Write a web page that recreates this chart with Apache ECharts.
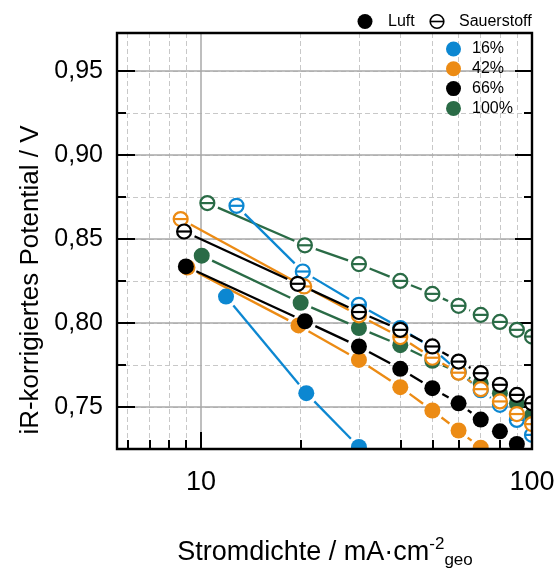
<!DOCTYPE html>
<html>
<head>
<meta charset="utf-8">
<script src="https://cdn.jsdelivr.net/npm/echarts@6/dist/echarts.min.js"></script>
<style>
  html, body { margin: 0; padding: 0; background: #fff; }
  #chart { width: 558px; height: 572px; }
</style>
</head>
<body>
<div id="chart"></div>
<script>
// Stromdichte in mA/cm² (geo) und iR-korrigiertes Potential in V

// Luft (gefüllte Symbole)
const luft16I = [11.9, 20.8, 30];
const luft16U = [0.8157, 0.7582, 0.7262];
const luft42I = [9.1, 19.7, 30, 40, 50, 60, 70];
const luft42U = [0.8330, 0.7985, 0.7780, 0.7618, 0.7479, 0.7360, 0.7258];
const luft66I = [9.0, 20.6, 30, 40, 50, 60, 70, 80, 90];
const luft66U = [0.8336, 0.8010, 0.7860, 0.7727, 0.7612, 0.7522, 0.7425, 0.7355, 0.7280];
const luft100I = [10.05, 20.0, 30, 40, 50, 60, 70, 80, 90, 100];
const luft100U = [0.8400, 0.8120, 0.7970, 0.7868, 0.7775, 0.7705, 0.7640, 0.7582, 0.7522, 0.7450];

// Sauerstoff (offene Symbole)
const o2_16I = [12.8, 20.3, 30, 40, 50, 60, 70, 80, 90, 100];
const o2_16U = [0.8697, 0.8306, 0.8108, 0.7970, 0.7850, 0.7710, 0.7600, 0.7513, 0.7423, 0.7334];
const o2_42I = [8.68, 20.5, 30, 40, 50, 60, 70, 80, 90, 100];
const o2_42U = [0.8618, 0.8217, 0.8045, 0.7916, 0.7793, 0.7704, 0.7606, 0.7533, 0.7458, 0.7398];
const o2_66I = [8.89, 19.6, 30, 40, 50, 60, 70, 80, 90, 100];
const o2_66U = [0.8544, 0.8233, 0.8065, 0.7959, 0.7860, 0.7770, 0.7701, 0.7632, 0.7572, 0.7522];
const o2_100I = [10.45, 20.6, 30, 40, 50, 60, 70, 80, 90, 100];
const o2_100U = [0.8713, 0.8462, 0.8350, 0.8250, 0.8173, 0.8102, 0.8048, 0.8006, 0.7959, 0.7919];

// Achsen
const xMajorTicks = [10, 100];
const xMinorTicks = [6, 7, 8, 9, 20, 30, 40, 50, 60, 70, 80, 90];
const yMajorTicks = [0.75, 0.80, 0.85, 0.90, 0.95];
const legendLabels = ['16%', '42%', '66%', '100%'];

const X_MIN = 5.574, X_MAX = 100;
const Y_MIN = 0.725, Y_MAX = 0.9725;

const FONT = '"Liberation Sans", Arial, Helvetica, sans-serif';
const BLUE = '#0c87d1', ORANGE = '#ec8b14', BLACK = '#000000', GREEN = '#2a6b46';
const colors = [BLUE, ORANGE, BLACK, GREEN];

const luftSets = [
  { I: luft16I, U: luft16U, color: BLUE },
  { I: luft42I, U: luft42U, color: ORANGE },
  { I: luft100I, U: luft100U, color: GREEN },
  { I: luft66I, U: luft66U, color: BLACK }
];
const o2Sets = [
  { I: o2_100I, U: o2_100U, color: GREEN },
  { I: o2_16I, U: o2_16U, color: BLUE },
  { I: o2_42I, U: o2_42U, color: ORANGE },
  { I: o2_66I, U: o2_66U, color: BLACK }
];

const GAP = 11.5;    // Abstand der Verbindungslinie vom Symbolmittelpunkt
const R_FILLED = 8;
const R_OPEN = 7;
const LINE_W = 2.3;

function clipRect(params) {
  const cs = params.coordSys;
  return { type: 'rect', shape: { x: cs.x, y: cs.y, width: cs.width, height: cs.height } };
}

function segmentRenderer(color) {
  return function (params, api) {
    const a = api.coord([api.value(0), api.value(1)]);
    const b = api.coord([api.value(2), api.value(3)]);
    const dx = b[0] - a[0], dy = b[1] - a[1];
    const len = Math.hypot(dx, dy);
    if (len <= 2 * GAP + 0.5) return null;
    const ux = dx / len, uy = dy / len;
    return {
      type: 'line',
      clipPath: clipRect(params),
      shape: { x1: a[0] + ux * GAP, y1: a[1] + uy * GAP, x2: b[0] - ux * GAP, y2: b[1] - uy * GAP },
      style: { stroke: color, lineWidth: LINE_W }
    };
  };
}

function markerRenderer(color, open) {
  return function (params, api) {
    const p = api.coord([api.value(0), api.value(1)]);
    if (!open) {
      return {
        type: 'circle', clipPath: clipRect(params),
        shape: { cx: p[0], cy: p[1], r: R_FILLED },
        style: { fill: color }
      };
    }
    return {
      type: 'group', clipPath: clipRect(params),
      children: [
        { type: 'circle', shape: { cx: p[0], cy: p[1], r: R_OPEN }, style: { fill: '#fff', stroke: color, lineWidth: 2.2 } },
        { type: 'line', shape: { x1: p[0] - R_OPEN, y1: p[1], x2: p[0] + R_OPEN, y2: p[1] }, style: { stroke: color, lineWidth: 2.2 } }
      ]
    };
  };
}

function segments(set) {
  const out = [];
  for (let i = 0; i + 1 < set.I.length; i++) out.push([set.I[i], set.U[i], set.I[i + 1], set.U[i + 1]]);
  return out;
}
function points(set) {
  return set.I.map((x, i) => [x, set.U[i]]);
}

const series = [];
[...luftSets, ...o2Sets].forEach(set => {
  series.push({
    type: 'custom', xAxisIndex: 0, yAxisIndex: 0, silent: true, z: 2,
    renderItem: segmentRenderer(set.color),
    encode: { x: [0, 2], y: [1, 3] },
    data: segments(set)
  });
});
luftSets.forEach(set => {
  series.push({
    type: 'custom', xAxisIndex: 0, yAxisIndex: 0, silent: true, z: 3,
    renderItem: markerRenderer(set.color, false),
    data: points(set)
  });
});
o2Sets.forEach(set => {
  series.push({
    type: 'custom', xAxisIndex: 0, yAxisIndex: 0, silent: true, z: 4,
    renderItem: markerRenderer(set.color, true),
    data: points(set)
  });
});

const tickStyle = { color: '#000', width: 2 };
const fmtY = v => v.toFixed(2).replace('.', ',');

const graphic = [
  // Rahmen
  { type: 'rect', z: 100, silent: true,
    shape: { x: 117, y: 33, width: 415, height: 416 },
    style: { fill: 'none', stroke: '#000', lineWidth: 2.4 } },
  // Legende Luft / Sauerstoff
  { type: 'circle', z: 100, shape: { cx: 365, cy: 21.5, r: 7.5 }, style: { fill: '#000' } },
  { type: 'text', z: 100, x: 388, y: 21.5,
    style: { text: 'Luft', font: '16px ' + FONT, fill: '#000', verticalAlign: 'middle' } },
  { type: 'circle', z: 100, shape: { cx: 437, cy: 21.5, r: 6.8 }, style: { fill: '#fff', stroke: '#000', lineWidth: 1.6 } },
  { type: 'line', z: 100, shape: { x1: 430.2, y1: 21.5, x2: 443.8, y2: 21.5 }, style: { stroke: '#000', lineWidth: 1.6 } },
  { type: 'text', z: 100, x: 459, y: 21.5,
    style: { text: 'Sauerstoff', font: '16px ' + FONT, fill: '#000', verticalAlign: 'middle' } },
  // Achsentitel
  { type: 'text', z: 100, x: 31, y: 280, rotation: Math.PI / 2,
    style: { text: 'iR-korrigiertes Potential / V', font: '26px ' + FONT, fill: '#000',
             align: 'center', verticalAlign: 'middle' } },
  { type: 'text', z: 100, x: 325, y: 553,
    style: {
      text: 'Stromdichte / mA·cm{sup|-2}{sub|geo}',
      font: '27px ' + FONT, fill: '#000', align: 'center', verticalAlign: 'middle',
      rich: {
        sup: { fontSize: 17, fontFamily: FONT, fill: '#000', padding: [0, 0, 18, 0] },
        sub: { fontSize: 17, fontFamily: FONT, fill: '#000', padding: [14, 0, 0, 0] }
      }
    } }
];
// Legende Konzentrationen
legendLabels.forEach((lbl, i) => {
  const cy = 49 + i * 19.8;
  graphic.push({ type: 'circle', z: 100, shape: { cx: 453.5, cy: cy, r: 7.5 }, style: { fill: colors[i] } });
  graphic.push({ type: 'text', z: 100, x: 472, y: cy,
    style: { text: lbl, font: '16px ' + FONT, fill: '#000', verticalAlign: 'middle' } });
});

const option = {
  animation: false,
  backgroundColor: '#fff',
  grid: { left: 117, top: 33, width: 415, height: 416, containLabel: false },
  xAxis: [
    {
      type: 'log', logBase: 10, min: X_MIN, max: X_MAX, position: 'bottom', z: 1,
      axisLine: { show: false },
      axisTick: { show: true, inside: true, length: 17, lineStyle: tickStyle, customValues: xMajorTicks },
      axisLabel: { show: true, customValues: xMajorTicks, fontSize: 27, fontFamily: FONT, color: '#000', margin: 20 },
      splitLine: { show: true, lineStyle: { color: '#a9a9a9', width: 1.5 } },
      minorTick: { show: false }, minorSplitLine: { show: false }
    },
    {
      type: 'log', logBase: 10, min: X_MIN, max: X_MAX, position: 'bottom', z: 0,
      axisLine: { show: false },
      axisTick: { show: true, inside: true, length: 9, lineStyle: tickStyle, customValues: xMinorTicks },
      axisLabel: { show: false },
      splitLine: { show: true, lineStyle: { color: '#c8c8c8', width: 1, type: [5, 3] } }
    }
  ],
  yAxis: [
    {
      type: 'value', min: Y_MIN, max: Y_MAX, interval: 0.025, position: 'left', z: 0,
      axisLine: { show: false },
      axisTick: { show: true, inside: true, length: 9, lineStyle: tickStyle },
      axisLabel: { show: false },
      splitLine: { show: true, lineStyle: { color: '#c8c8c8', width: 1, type: [5, 3] } }
    },
    {
      type: 'value', min: Y_MIN, max: Y_MAX, position: 'left', z: 1,
      axisLine: { show: false },
      axisTick: { show: true, inside: true, length: 18, lineStyle: tickStyle, customValues: yMajorTicks },
      axisLabel: { show: true, customValues: yMajorTicks, formatter: fmtY, fontSize: 25, fontFamily: FONT, color: '#000', margin: 14 },
      splitLine: { show: true, lineStyle: { color: '#a9a9a9', width: 1.5 } }
    },
    {
      type: 'value', min: Y_MIN, max: Y_MAX, interval: 0.025, position: 'right', z: 0,
      axisLine: { show: false },
      axisTick: { show: true, inside: true, length: 8, lineStyle: tickStyle },
      axisLabel: { show: false },
      splitLine: { show: false }
    },
    {
      type: 'value', min: Y_MIN, max: Y_MAX, position: 'right', z: 1,
      axisLine: { show: false },
      axisTick: { show: true, inside: true, length: 17, lineStyle: tickStyle, customValues: yMajorTicks },
      axisLabel: { show: false },
      splitLine: { show: false }
    }
  ],
  graphic: graphic,
  series: series
};

const chart = echarts.init(document.getElementById('chart'), null, { renderer: 'canvas' });
chart.setOption(option);
</script>
</body>
</html>
